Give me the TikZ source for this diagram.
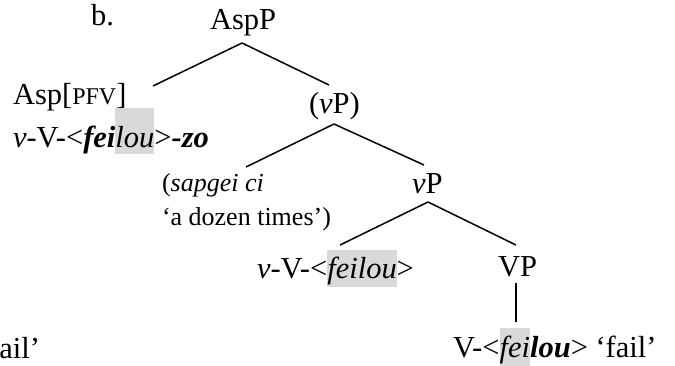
\documentclass[tikz,border=0pt]{standalone}
\usepackage{fontspec}
\setmainfont{Liberation Serif}
\definecolor{hlgray}{RGB}{217,217,217}
\newcommand{\hlbox}[3]{{\setlength{\fboxsep}{0pt}\colorbox{hlgray}{\rule[-#1]{0pt}{#2}#3}}}
\begin{document}
\begin{tikzpicture}[x=1pt,y=-1pt,
  every node/.style={inner sep=0pt, outer sep=0pt, anchor=base west,
    font=\fontsize{30.5}{36}\selectfont},
  small/.style={font=\fontsize{26}{31}\selectfont},
  branch/.style={line width=1.5pt},
  stem/.style={line width=2.6pt}]
\useasboundingbox (0,0) rectangle (675,365);
\clip (0,0) rectangle (675,365);

\node (lbl) at (91,25) {b.};
\node (AspP) at (210,29) {AspP};
\node (asp) at (13,104) {Asp[{\fontsize{24}{28}\selectfont PFV}]};
\node (aspv) at (13,147) {\textit{v}-V-<\textbf{\textit{fei}}\hlbox{7pt}{46pt}{\textit{lou}}>\textbf{\textit{-zo}}};
\node (vPp) at (309,113) {(\textit{v}P)};
\node[small] (sap) at (162,191) {(\textit{sapgei ci}};
\node[small] (doz) at (162,225) {‘a dozen times’)};
\node (vP) at (412,193) {\textit{v}P};
\node (vv) at (257,278) {\textit{v}-V-<\hlbox{9pt}{37pt}{\textit{feilou}}>};
\node (VP) at (498,276) {VP};
\node (Vf) at (453,357) {V-<\hlbox{10pt}{39pt}{\textit{fei}}\textbf{\textit{lou}}> ‘fail’};
\node[anchor=base east] (fail) at (40,358) {‘fail’};

\draw[branch] ([xshift=32pt,yshift=-14pt]AspP.base west) -- ([xshift=140pt,yshift=18pt]asp.base west);
\draw[branch] ([xshift=32pt,yshift=-14pt]AspP.base west) -- ([xshift=20pt,yshift=28pt]vPp.base west);
\draw[branch] ([xshift=25pt,yshift=-11pt]vPp.base west) -- ([xshift=84pt,yshift=24pt]sap.base west);
\draw[branch] ([xshift=25pt,yshift=-11pt]vPp.base west) -- ([xshift=12pt,yshift=28pt]vP.base west);
\draw[branch] ([xshift=16pt,yshift=-9pt]vP.base west) -- ([xshift=83pt,yshift=33pt]vv.base west);
\draw[branch] ([xshift=16pt,yshift=-9pt]vP.base west) -- ([xshift=18pt,yshift=31pt]VP.base west);
\draw[stem] ([xshift=18pt,yshift=-7pt]VP.base west) -- ([xshift=63pt,yshift=35pt]Vf.base west);
\end{tikzpicture}
\end{document}
